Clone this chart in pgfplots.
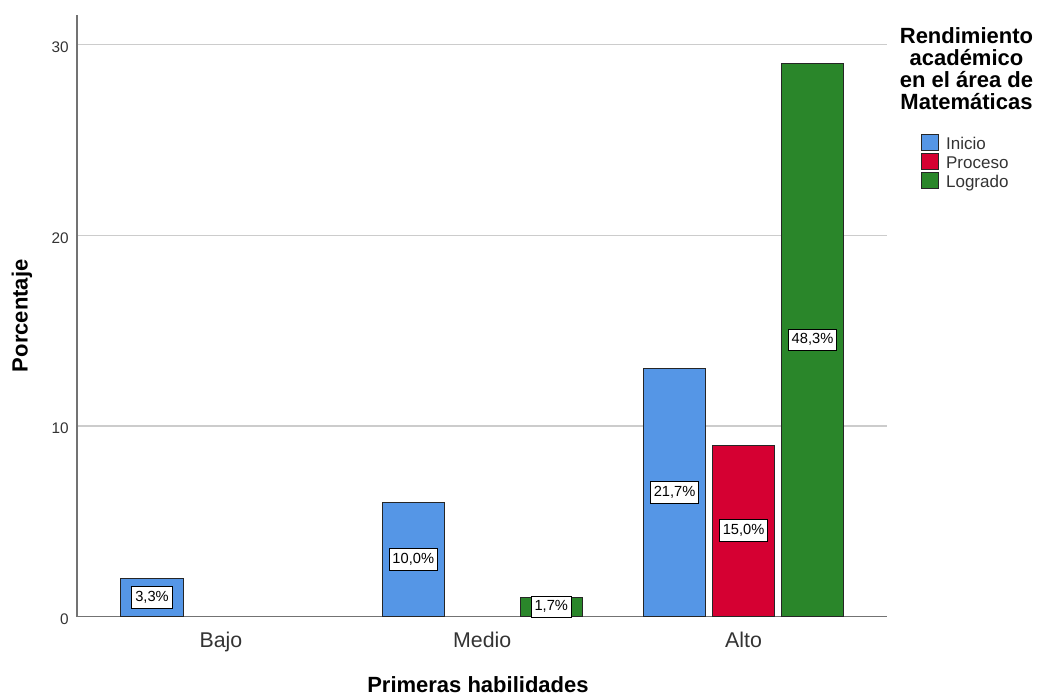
\documentclass[border=0pt]{standalone}
\usepackage{pgfplots}
\pgfplotsset{compat=1.18}
\usepackage{fontspec}
\setmainfont{Liberation Sans}

\definecolor{cInicio}{RGB}{85,150,230}
\definecolor{cProceso}{RGB}{213,0,50}
\definecolor{cLogrado}{RGB}{42,134,42}

\begin{document}
\begin{tikzpicture}
\path[use as bounding box] (-57.75pt,-58.7pt) rectangle (720.75pt,462.5pt);
\begin{axis}[
  at={(0,0)}, anchor=south west,
  scale only axis, width=607.5pt, height=451.3pt,
  xmin=-0.551, xmax=2.549, ymin=0, ymax=31.55,
  axis lines=left,
  axis line style={-, draw=black!55, line width=1pt},
  ybar=0pt, bar width=0.239,
  xtick={0,1,2}, xticklabels={Bajo,Medio,Alto},
  ytick={0,10,20,30},
  major tick length=0pt,
  ymajorgrids, grid style={draw=black!20, line width=1pt},
  /pgf/number format/assume math mode=true,
  xticklabel style={font=\fontsize{16}{19}\selectfont, text=black!80, anchor=base, yshift=-23.25pt},
  yticklabel style={font=\fontsize{11.5}{14}\selectfont, text=black!80, anchor=east, inner sep=0pt, xshift=-6pt, yshift=-2pt},
  xlabel={Primeras habilidades}, ylabel={Porcentaje},
  label style={font=\fontsize{16.5}{20}\selectfont\bfseries},
  xlabel style={at={(axis description cs:0.495,0)}, anchor=base, yshift=-56.5pt},
  ylabel style={at={(axis description cs:-0.0679,0.5)}, anchor=center},
  point meta=explicit symbolic,
  nodes near coords,
  visualization depends on={y \as \rawy},
  every node near coord/.append style={anchor=center, yshift=-7.15pt*\rawy,
     fill=white, draw=black, line width=0.75pt, text=black,
     font=\fontsize{11}{13}\selectfont,
     inner xsep=2.5pt, inner ysep=3pt, text height=8pt, text depth=2.3pt},
  legend style={at={(axis description cs:1.042,0.802)}, anchor=north west,
     draw=none, fill=none, inner sep=0pt, outer sep=0pt, row sep=0pt,
     column sep=5.3pt, font=\fontsize{12.75}{15}\selectfont, text=black!80,
     nodes={inner sep=0pt, text height=9pt, text depth=2.2pt},
     cells={anchor=base west}},
  legend image code/.code={\draw[#1, draw=black!85, line width=0.75pt] (0pt,-0.5pt) rectangle (12.75pt,11.5pt);},
]
% counts per level; labels give the share of the 60 students
\addplot[fill=cInicio, draw=black!85, line width=0.75pt, bar shift=-0.264]
  coordinates {(0,2) [3,3\%] (1,6) [10,0\%] (2,13) [21,7\%]};
\addlegendentry{Inicio}
\addplot[fill=cProceso, draw=black!85, line width=0.75pt, bar shift=0]
  coordinates {(2,9) [15,0\%]};
\addlegendentry{Proceso}
\addplot[fill=cLogrado, draw=black!85, line width=0.75pt, bar shift=0.264]
  coordinates {(1,1) [1,7\%] (2,29) [48,3\%]};
\addlegendentry{Logrado}
\end{axis}
% legend title
\begin{scope}[every node/.style={anchor=base, inner sep=0pt, font=\fontsize{16.5}{20}\selectfont\bfseries}]
\node at (667.1pt,430.05pt) {Rendimiento};
\node at (667.1pt,413.55pt) {académico};
\node at (667.1pt,397.05pt) {en el área de};
\node at (667.1pt,380.55pt) {Matemáticas};
\end{scope}
\end{tikzpicture}
\end{document}
